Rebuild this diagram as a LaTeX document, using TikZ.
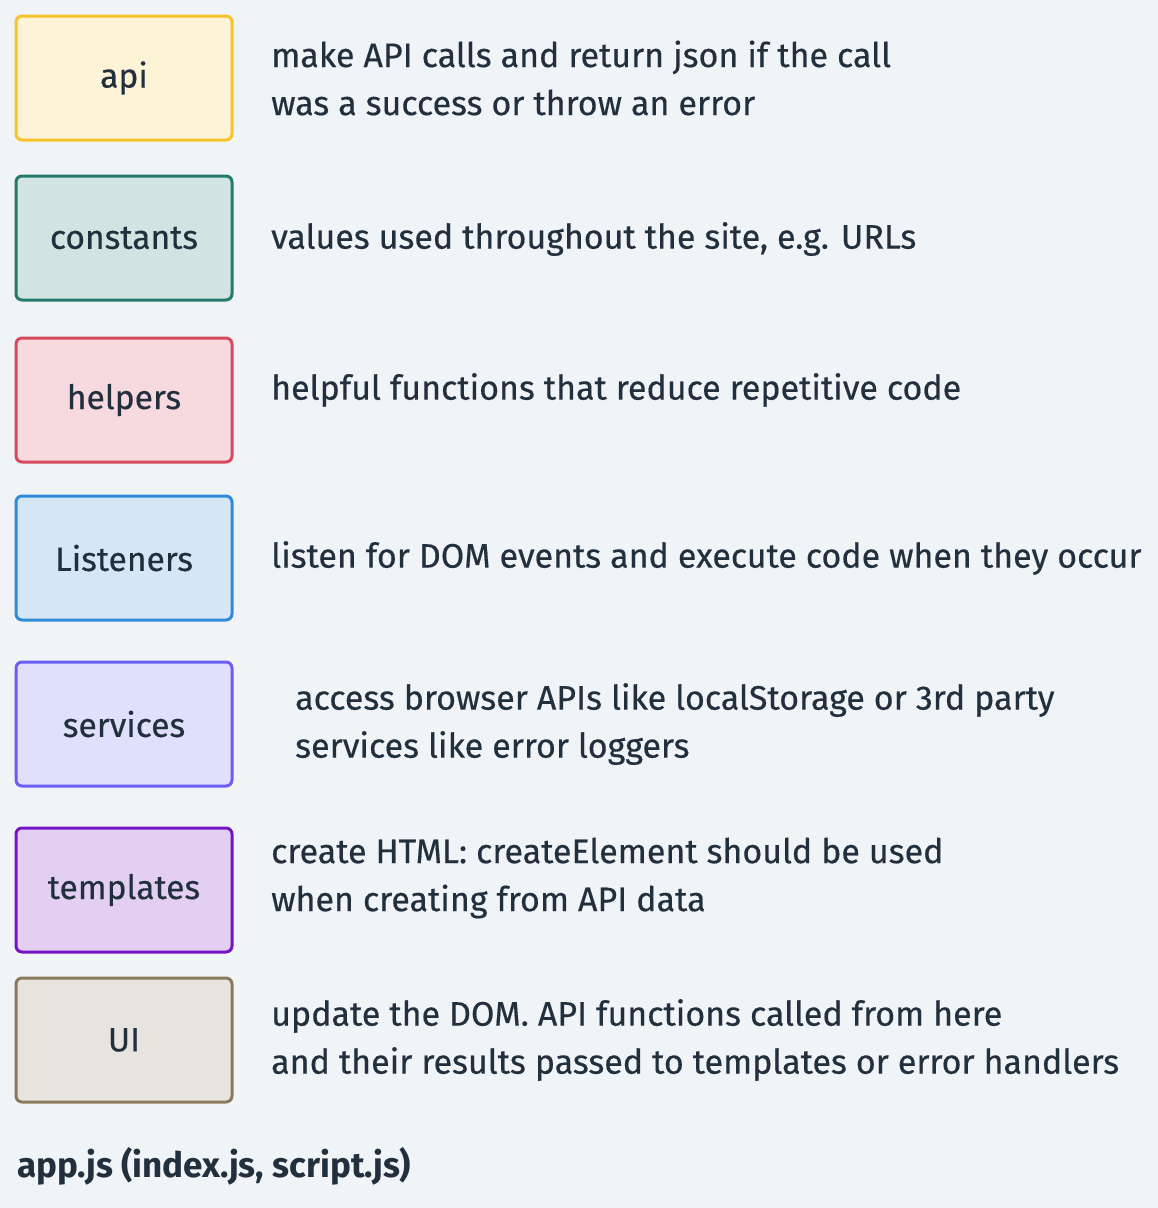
\documentclass[tikz,border=0pt]{standalone}
\usepackage{fontspec}
\setmainfont{Fira Sans}[FakeBold=0.4]
\newfontfamily\headfont{Fira Sans}[BoldFont={* Bold}]
\begin{document}
\definecolor{bgc}{HTML}{F0F4F7}
\definecolor{ink}{HTML}{22303E}
\definecolor{apiF}{HTML}{FDF3D6}\definecolor{apiD}{HTML}{F8C22A}
\definecolor{conF}{HTML}{D2E4E1}\definecolor{conD}{HTML}{237A68}
\definecolor{helF}{HTML}{F7DADF}\definecolor{helD}{HTML}{D6495D}
\definecolor{lisF}{HTML}{D5E6F5}\definecolor{lisD}{HTML}{2F8BDA}
\definecolor{serF}{HTML}{E0DFFC}\definecolor{serD}{HTML}{6C5DF4}
\definecolor{temF}{HTML}{E3CFF2}\definecolor{temD}{HTML}{7414C4}
\definecolor{uiF}{HTML}{E7E4E0}\definecolor{uiD}{HTML}{8A7A5D}
\begin{tikzpicture}[x=1pt,y=-1pt,
  module/.style={draw=#1D, fill=#1F, line width=3pt, rounded corners=6pt,
    minimum width=216pt, minimum height=124pt, inner sep=0pt,
    text=ink, font=\fontsize{33.6}{40}\selectfont},
  desc/.style={anchor=west, inner sep=0pt, align=left, text=ink,
    font=\fontsize{34}{48}\selectfont}]
  \fill[bgc] (0,0) rectangle (1158,1208);
  \useasboundingbox (0,0) rectangle (1158,1208);

  \node[module=api] (api) at (124,78) {api};
  \node[module=con] (con) at (124,238) {constants};
  \node[module=hel] (hel) at (124,400) {helpers};
  \node[module=lis] (lis) at (124,558) {Listeners};
  \node[module=ser] (ser) at (124,724) {services};
  \node[module=tem] (tem) at (124,890) {templates};
  \node[module=ui] (ui) at (124,1040) {UI};

  \node[desc] (apid) at (271,78) {make API calls and return json if the call\\was a success or throw an error};
  \node[desc] (cond) at (271,239) {values used throughout the site, e.g. URLs};
  \node[desc] (held) at (271,390) {helpful functions that reduce repetitive code};
  \node[desc] (lisd) at (271,558) {listen for DOM events and execute code when they occur};
  \node[desc] (serd) at (295,724) {access browser APIs like localStorage or 3rd party\\services like error loggers};
  \node[desc] (temd) at (271,878) {create HTML: createElement should be used\\when creating from API data};
  \node[desc] (uid) at (271,1040) {update the DOM. API functions called from here\\and their results passed to templates or error handlers};

  \node[anchor=west, inner sep=0pt, text=ink, font=\headfont\fontsize{35}{40}\selectfont\bfseries] (app) at (17,1166) {app.js (index.js, script.js)};
\end{tikzpicture}
\end{document}
